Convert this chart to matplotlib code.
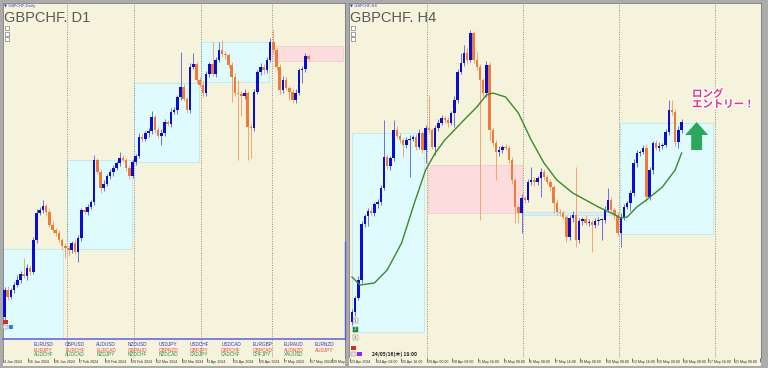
import matplotlib
matplotlib.use("Agg")
import matplotlib.pyplot as plt
import matplotlib.patheffects as pe
from matplotlib.patches import Rectangle, FancyArrow

# No price scale is visible in the screenshot, so prices are in chart units
# (1 unit = 1 px of the original, higher = higher price).

# ---------------- GBPCHF D1 ----------------
d1_first_open = 51
d1_close = [78, 71, 78, 83, 88, 94, 92, 100, 96, 128,
            155, 158, 162, 156, 143, 138, 135, 128, 122, 120,
            118, 125, 116, 130, 158, 156, 161, 166, 208, 196,
            180, 184, 192, 196, 200, 205, 210, 208, 200, 192,
            206, 212, 231, 229, 235, 237, 251, 238, 232, 235,
            246, 244, 256, 258, 271, 281, 269, 258, 301, 304,
            288, 283, 275, 294, 304, 294, 308, 318, 314, 313,
            303, 291, 275, 274, 272, 275, 241, 240, 276, 296,
            301, 298, 308, 326, 318, 301, 278, 288, 280, 276,
            268, 275, 298, 299, 312, 309]
d1_wick_up = [3, 4, 2, 3, 5, 3, 16, 4, 3, 3,
              4, 3, 6, 2, 3, 4, 2, 3, 2, 3,
              3, 2, 4, 3, 2, 4, 3, 2, 5, 2,
              3, 4, 2, 3, 3, 2, 6, 3, 2, 3,
              3, 2, 4, 3, 2, 3, 6, 2, 3, 4,
              3, 2, 4, 3, 2, 35, 3, 2, 4, 11,
              2, 3, 4, 3, 2, 22, 3, 8, 10, 3,
              2, 3, 4, 13, 3, 4, 2, 3, 3, 2,
              4, 3, 3, 4, 12, 2, 3, 4, 3, 2,
              3, 4, 2, 3, 3, 2]
d1_wick_dn = [4, 3, 2, 3, 2, 3, 2, 4, 3, 2,
              3, 2, 3, 4, 2, 3, 3, 2, 3, 10,
              6, 3, 2, 10, 3, 2, 3, 2, 3, 2,
              5, 3, 2, 3, 4, 2, 3, 2, 3, 3,
              2, 3, 2, 3, 2, 4, 3, 3, 2, 9,
              3, 2, 3, 2, 4, 3, 2, 3, 3, 2,
              3, 2, 4, 3, 3, 2, 3, 2, 3, 4,
              3, 25, 3, 66, 20, 3, 33, 30, 3, 2,
              3, 4, 3, 2, 3, 3, 4, 3, 2, 8,
              3, 3, 2, 13, 3, 2]
d1_month_start = [20, 41, 62, 84]
# range boxes: first bar, last bar, low, high
d1_box_x0 = [-0.5, 19.5, 40.5, 61.5]
d1_box_x1 = [18.3, 39.8, 60.8, 82.7]
d1_box_lo = [29, 119, 206, 286]
d1_box_hi = [119, 208, 285, 326]
d1_pink = (83.6, 105.8, 307, 322)
d1_label_idx = [0, 8, 16, 24, 32, 40, 48, 56, 64, 72, 80, 88, 96, 103]
d1_label_txt = ["4 Jan 2024", "16 Jan 2024", "26 Jan 2024", "7 Feb 2024",
                "19 Feb 2024", "29 Feb 2024", "12 Mar 2024", "22 Mar 2024",
                "3 Apr 2024", "15 Apr 2024", "25 Apr 2024", "7 May 2024",
                "17 May 2024", "29 May"]

pairs_row1 = ["EURUSD", "GBPUSD", "AUDUSD", "NZDUSD", "USDJPY",
              "USDCHF", "USDCAD", "EURGBP", "EURAUD", "EURNZD"]
pairs_row2 = ["EURJPY", "EURCHF", "EURCAD", "GBPAUD", "GBPNZD",
              "GBPJPY", "GBPCHF", "GBPCAD", "AUDNZD", "AUDJPY"]
pairs_row3 = ["AUDCHF", "AUDCAD", "NZDJPY", "NZDCHF", "NZDCAD",
              "CADJPY", "CADCHF", "CHFJPY", "XAUUSD", ""]

# ---------------- GBPCHF H4 ----------------
h4_first_open = 46
h4_close = [56, 70, 88, 144, 152, 157, 155, 164, 166, 180,
            211, 202, 210, 238, 232, 228, 223, 228, 229, 231,
            221, 235, 218, 240, 238, 221, 240, 245, 250, 248,
            245, 255, 268, 296, 305, 315, 308, 335, 308, 301,
            288, 275, 303, 238, 225, 216, 218, 221, 220, 208,
            188, 161, 155, 170, 168, 186, 188, 186, 190, 196,
            191, 186, 181, 165, 156, 155, 151, 131, 150, 153,
            128, 147, 149, 145, 146, 143, 147, 148, 148, 158,
            168, 158, 153, 135, 151, 161, 165, 175, 205, 215,
            216, 220, 171, 198, 225, 220, 222, 223, 236, 258,
            256, 226, 238, 246]
h4_wick_up = [3, 2, 4, 3, 2, 3, 4, 2, 3, 3,
              37, 3, 2, 10, 4, 3, 2, 3, 4, 2,
              3, 4, 2, 3, 33, 2, 3, 4, 3, 2,
              3, 2, 4, 3, 10, 8, 5, 3, 2, 8,
              3, 2, 4, 3, 2, 3, 4, 2, 3, 2,
              3, 2, 3, 4, 2, 3, 13, 3, 2, 4,
              3, 2, 3, 2, 4, 3, 3, 2, 3, 4,
              48, 3, 2, 4, 3, 2, 3, 3, 2, 4,
              12, 3, 2, 3, 4, 3, 2, 3, 4, 3,
              2, 3, 4, 3, 2, 3, 4, 2, 3, 10,
              10, 3, 4, 3]
h4_wick_dn = [3, 4, 2, 3, 3, 10, 2, 3, 4, 3,
              2, 3, 4, 3, 2, 3, 12, 3, 37, 2,
              3, 2, 3, 13, 3, 2, 8, 3, 2, 3,
              4, 2, 14, 3, 2, 3, 4, 2, 3, 3,
              140, 3, 4, 10, 3, 28, 4, 3, 2, 3,
              4, 16, 10, 20, 3, 2, 3, 4, 3, 19,
              3, 2, 4, 10, 3, 3, 2, 5, 3, 4,
              7, 3, 4, 2, 3, 27, 3, 4, 20, 3,
              2, 3, 4, 3, 14, 3, 2, 8, 3, 4,
              3, 2, 5, 3, 4, 2, 3, 3, 2, 3,
              3, 4, 6, 3]
h4_ma_idx = [0, 2.5, 7, 11, 15.5, 19.5, 23, 26, 29, 32, 35, 39, 42, 44, 48,
             52, 56, 60, 64, 69, 73, 77, 81, 84, 86, 89, 92, 97, 101, 103]
h4_ma_val = [91, 83, 85, 98, 125, 165, 198, 215, 228, 238, 248, 261, 273, 275, 271,
             255, 228, 205, 188, 175, 168, 161, 155, 150, 151, 161, 168, 181, 198, 215]
h4_week_start = [24, 54, 84, 114]
h4_box_x0 = [-0.1, 83.75]
h4_box_x1 = [22.5, 112.8]
h4_box_lo = [36, 134]
h4_box_hi = [235, 245]
h4_pink = (23.75, 53.1, 155, 203)
h4_strip = (53.1, 83.75, 153, 156)
h4_label_idx = list(range(0, 129, 8))
h4_label_txt = ["23 Apr 2024", "24 Apr 08:00", "25 Apr 16:00", "29 Apr 00:00",
                "30 Apr 08:00", "1 May 16:00", "3 May 00:00", "6 May 08:00",
                "7 May 16:00", "9 May 00:00", "10 May 08:00", "13 May 16:00",
                "15 May 00:00", "16 May 08:00", "17 May 16:00", "21 May 00:00",
                "22"]

# ---------------- styling ----------------
W, H = 768, 368
CREAM = "#f5f3dc"
CYAN = "#dffbfd"
PINK = "#fcdcdc"
BULL, BEAR = "#0c0cd0", "#f27a38"
BULL_WICK, BEAR_WICK = "#7070d8", "#f2a472"
NARROW = ["Liberation Sans Narrow", "Liberation Sans", "DejaVu Sans"]

fig = plt.figure(figsize=(W / 100, H / 100), dpi=100, facecolor="#ababab")


def px_axes(x0, y0, x1, y1, **kw):
    return fig.add_axes([x0 / W, 1 - y1 / H, (x1 - x0) / W, (y1 - y0) / H], **kw)


def setup(ax, x0, x1, first_x, step):
    ax.set_facecolor(CREAM)
    ax.set_xlim((x0 - first_x) / step, (x1 - first_x) / step)
    ax.set_xticks([])
    ax.set_yticks([])
    for s in ax.spines.values():
        s.set_color("#7a7a7a")
        s.set_linewidth(0.6)


def candles(ax, first_open, closes, wick_up, wick_dn):
    opens = [first_open] + closes[:-1]
    for i, (o, c, u, d) in enumerate(zip(opens, closes, wick_up, wick_dn)):
        bull = c >= o
        lo, hi = min(o, c), max(o, c)
        ax.vlines(i, lo - d, hi + u, color=BULL_WICK if bull else BEAR_WICK,
                  lw=0.7, zorder=3)
        ax.add_patch(Rectangle((i - 0.4, lo), 0.8, max(hi - lo, 1),
                               facecolor=BULL if bull else BEAR, lw=0, zorder=4))


def box(ax, x0, x1, lo, hi, color, edge):
    ax.add_patch(Rectangle((x0, lo), x1 - x0, hi - lo, facecolor=color,
                           edgecolor=edge, lw=0.5, zorder=1))


def date_strip(x0, x1, first_x, step, idx, txt):
    st = px_axes(x0, 358, x1, 366)
    setup(st, x0, x1, first_x, step)
    st.set_ylim(0, 1)
    for s in st.spines.values():
        s.set_visible(False)
    for i, t in zip(idx, txt):
        st.vlines(i - 0.6, 0.45, 1.0, color="#404040", lw=0.5)
        st.text(i - 0.3, 0.45, t, fontsize=2.6, family=NARROW, color="#303030",
                va="center", ha="left", clip_on=True)


# ---- D1 panel ----
D1_X, D1_STEP = 4.5, 3.2
ax1 = px_axes(3, 3, 345, 358)
setup(ax1, 3, 345, D1_X, D1_STEP)
ax1.set_ylim(H - 358, H - 3)
for x0, x1, lo, hi in zip(d1_box_x0, d1_box_x1, d1_box_lo, d1_box_hi):
    box(ax1, x0, x1, lo, hi, CYAN, "#b4e6ec")
box(ax1, *d1_pink, PINK, "#f4c8c8")
for m in d1_month_start:
    ax1.axvline(m - 0.5, color="#8c8c8c", ls=(0, (1, 1.5)), lw=0.7, zorder=2)
candles(ax1, d1_first_open, d1_close, d1_wick_up, d1_wick_dn)
date_strip(3, 345, D1_X, D1_STEP, d1_label_idx, d1_label_txt)

# ---- H4 panel ----
H4_X, H4_STEP = 352, 3.2
ax2 = px_axes(349, 3, 761, 358)
setup(ax2, 349, 761, H4_X, H4_STEP)
ax2.set_ylim(H - 358, H - 3)
for x0, x1, lo, hi in zip(h4_box_x0, h4_box_x1, h4_box_lo, h4_box_hi):
    box(ax2, x0, x1, lo, hi, CYAN, "#b4e6ec")
box(ax2, *h4_pink, PINK, "#f4c8c8")
box(ax2, *h4_strip, "#d6f0f6", "#c0e2ea")
for w in h4_week_start:
    ax2.axvline(w - 0.5, color="#8c8c8c", ls=(0, (1, 1.5)), lw=0.7, zorder=2)
ax2.plot(h4_ma_idx, h4_ma_val, color="#3a8a2c", lw=1.0, zorder=5)
candles(ax2, h4_first_open, h4_close, h4_wick_up, h4_wick_dn)
ax2.add_patch(FancyArrow(107.7, 218, 0, 28, width=3.4, head_width=7.2,
                         head_length=13, length_includes_head=True,
                         color="#2aa95c", lw=0, zorder=6))
date_strip(349, 761, H4_X, H4_STEP, h4_label_idx, h4_label_txt)

# ---- window chrome (pixel coordinates) ----
ov = fig.add_axes([0, 0, 1, 1], zorder=20)
ov.set_xlim(0, W)
ov.set_ylim(H, 0)
ov.axis("off")

for x, name, title in [(4, "▼ GBPCHF,Daily", "GBPCHF. D1"), (350, "▼ GBPCHF,H4", "GBPCHF. H4")]:
    ov.text(x, 5.5, name, fontsize=2.8, color="#3c3cc0", va="center")
    ov.text(x + 0.5, 22, title, fontsize=10.5, family=NARROW, color="#5a5a5a",
            va="baseline")
    for y0 in (26, 31.5, 37):
        ov.add_patch(Rectangle((x + 0.5, y0), 4, 4.2, facecolor="white",
                               edgecolor="#606060", lw=0.4))

# currency strip under the D1 chart
ov.plot([3, 345], [339, 339], color="#6a6ade", lw=1.2)
ov.plot([344.5, 344.5], [242, 339], color="#5a5ad8", lw=1.0)
row_colors = ["#3434c8", "#e04848", "#2e8b3e"]
for r, (row, col) in enumerate(zip([pairs_row1, pairs_row2, pairs_row3], row_colors)):
    for c, name in enumerate(row):
        ov.text(34 + 31.2 * c, 345 + 5 * r, name, fontsize=3.4,
                family=["Liberation Sans", "DejaVu Sans"], color=col, va="center")

ov.add_patch(Rectangle((3, 320), 4.5, 3.8, facecolor="#c83232", lw=0))
ov.add_patch(Rectangle((3, 325), 4.5, 4, facecolor="#e4e4e4", edgecolor="#808080", lw=0.3))
ov.add_patch(Rectangle((8.5, 325), 4.5, 4, facecolor="#3a78f0", lw=0))

for y0, label, fc, tc in [(318, "1", "white", "#202020"), (326.5, "2", "#1c8a3a", "white"),
                          (335, "3", "white", "#202020")]:
    ov.add_patch(Rectangle((353, y0), 4.5, 5, facecolor=fc, edgecolor="#606060", lw=0.3))
    ov.text(355.25, y0 + 2.6, label, fontsize=3, color=tc, ha="center", va="center")
ov.add_patch(Rectangle((351, 346), 4.5, 4, facecolor="#c83232", lw=0))
ov.add_patch(Rectangle((351, 352), 4.5, 4, facecolor="#e4e4e4", edgecolor="#808080", lw=0.3))
ov.add_patch(Rectangle((357, 352), 5, 4, facecolor="#8a2ae6", lw=0))
ov.text(372, 354.5, "24/05/16(木) 18:00", fontsize=3.6, weight="bold", color="#202020",
        family=["Noto Sans CJK JP", "DejaVu Sans"], va="center")

ov.text(692, 89, "ロング\nエントリー！", fontsize=7.5, weight="bold", color="#e8327c",
        family=["Noto Sans CJK JP", "DejaVu Sans"], va="top", ha="left",
        linespacing=1.05,
        path_effects=[pe.withStroke(linewidth=2, foreground="white")])

fig.savefig("out.png", dpi=100, facecolor=fig.get_facecolor())
